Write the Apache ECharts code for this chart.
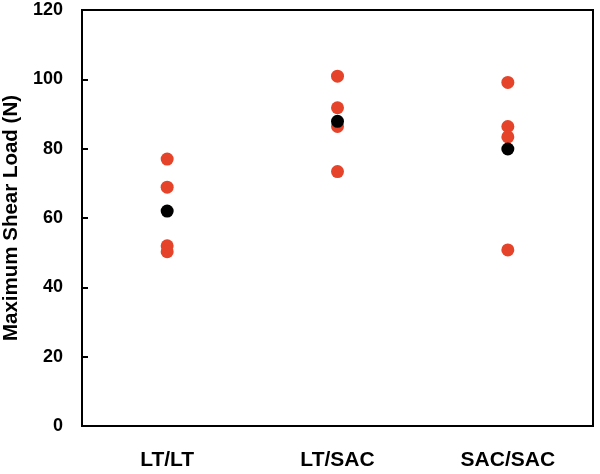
<!DOCTYPE html>
<html>
<head>
<meta charset="utf-8">
<script src="https://cdn.jsdelivr.net/npm/echarts@6/dist/echarts.min.js"></script>
<style>html,body{margin:0;padding:0;background:#fff}#c{width:600px;height:474px}</style>
</head>
<body>
<div id="c"></div>
<script>
const categories = ['LT/LT', 'LT/SAC', 'SAC/SAC'];
const ltltValues = [77.0, 68.9, 52.0, 50.3];
const ltsacValues = [100.9, 91.8, 86.4, 73.4];
const sacsacValues = [99.1, 86.4, 83.4, 50.8];
const meanValues = [62.0, 87.9, 79.9];
const yTicks = [0, 20, 40, 60, 80, 100, 120];

const groups = [ltltValues, ltsacValues, sacsacValues];
const redData = [];
groups.forEach((arr, i) => arr.forEach(v => redData.push([categories[i], v])));
const meanData = meanValues.map((v, i) => [categories[i], v]);

const FONT = 'Liberation Sans';
const chart = echarts.init(document.getElementById('c'), null, {renderer: 'canvas'});
chart.setOption({
  animation: false,
  backgroundColor: '#fff',
  grid: {left: 82, right: 7, top: 10, bottom: 48, show: true, borderColor: '#000', borderWidth: 2,
         containLabel: false, outerBoundsMode: 'none'},
  xAxis: {
    type: 'category',
    data: categories,
    boundaryGap: true,
    axisLine: {lineStyle: {color: '#000', width: 2}},
    axisTick: {inside: true, length: 6, lineStyle: {color: '#000', width: 2}},
    axisLabel: {color: '#000', fontFamily: FONT, fontWeight: 'bold', fontSize: 21, margin: 24},
    splitLine: {show: false}
  },
  yAxis: {
    type: 'value',
    min: yTicks[0],
    max: yTicks[yTicks.length - 1],
    interval: 20,
    name: 'Maximum Shear Load (N)',
    nameLocation: 'middle',
    nameGap: 59,
    nameTextStyle: {color: '#000', fontFamily: FONT, fontWeight: 'bold', fontSize: 20.5},
    axisLine: {show: true, lineStyle: {color: '#000', width: 2}},
    axisTick: {show: true, inside: true, length: 6, lineStyle: {color: '#000', width: 2}},
    axisLabel: {color: '#000', fontFamily: FONT, fontWeight: 'bold', fontSize: 18, margin: 19},
    splitLine: {show: false}
  },
  series: [
    {type: 'scatter', data: redData, symbolSize: 13, itemStyle: {color: '#e5432a', opacity: 1}, z: 2},
    {type: 'scatter', data: meanData, symbolSize: 13, itemStyle: {color: '#000', opacity: 1}, z: 3}
  ]
});
</script>
</body>
</html>
